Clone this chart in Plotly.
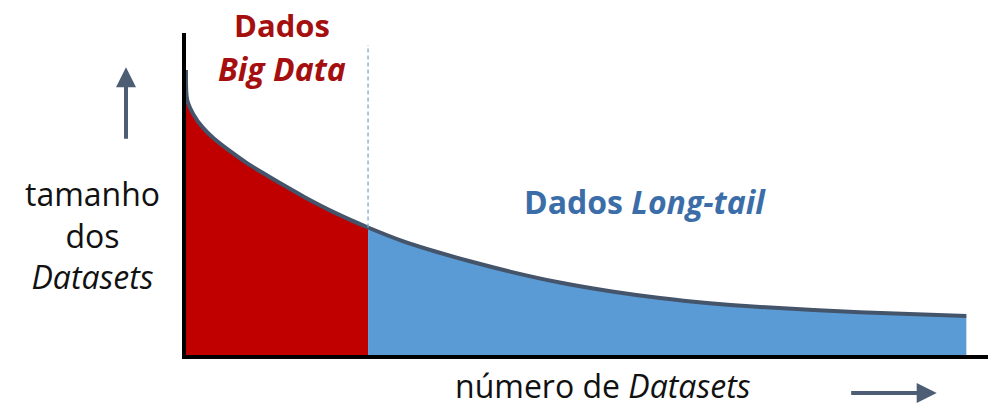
import plotly.graph_objects as go

# Data: dataset rank vs dataset size (arbitrary units)
rank = [0, 0.15, 0.9, 2.1, 3.4, 5.5, 7.6, 9.6, 11.7, 14.8, 18.8, 22.7, 27.1, 31.3, 35.4,
        40.4, 46.6, 52.9, 59.1, 65.3, 71.6, 84.0, 97.3]
size = [88.5, 79.2, 74.8, 70.6, 67.4, 63.3, 59.6, 56.5, 53.4, 49.0, 43.9, 39.6, 35.3, 32.0, 29.1,
        25.9, 22.5, 19.8, 17.7, 16.1, 14.9, 13.3, 12.1]
cutoff_index = 11  # boundary between "Big Data" head and "Long-tail"

RED = "#C00000"
BLUE = "#5B9BD5"
CURVE = "#44546A"
ARROW = "#4D5D73"
FONT = "Open Sans"

cut_x = rank[cutoff_index]
cut_y = size[cutoff_index]

fig = go.Figure()
fig.add_trace(go.Scatter(x=rank[:cutoff_index + 1], y=size[:cutoff_index + 1], mode="lines",
                         line=dict(width=0, shape="spline", smoothing=0.8, color=RED), fill="tozeroy",
                         fillcolor=RED, hoverinfo="skip", showlegend=False))
fig.add_trace(go.Scatter(x=rank[cutoff_index:], y=size[cutoff_index:], mode="lines",
                         line=dict(width=0, shape="spline", smoothing=0.8, color=BLUE), fill="tozeroy",
                         fillcolor=BLUE, hoverinfo="skip", showlegend=False))
fig.add_trace(go.Scatter(x=rank, y=size, mode="lines",
                         line=dict(width=4, shape="spline", smoothing=0.8, color=CURVE),
                         hoverinfo="skip", showlegend=False))
# dashed divider
fig.add_trace(go.Scatter(x=[cut_x, cut_x], y=[cut_y, 96.3], mode="lines",
                         line=dict(width=1.3, color="#7FA8CC", dash="4px,3px"),
                         hoverinfo="skip", showlegend=False))

annotations = [
    dict(x=0.1197, y=1.025, text="<b>Dados</b>", font=dict(family=FONT, size=31, color="#A50F0F")),
    dict(x=0.1197, y=0.891, text="<b><i>Big Data</i></b>", font=dict(family=FONT, size=32, color="#A50F0F")),
    dict(x=0.572, y=0.478, text="<b>Dados <i>Long-tail</i></b>", font=dict(family=FONT, size=32, color="#3B6EA8")),
    dict(x=-0.116, y=0.372, text="tamanho<br>dos<br><i>Datasets</i>", font=dict(family=FONT, size=32, color="#111111")),
]
for a in annotations:
    a.update(xref="paper", yref="paper", showarrow=False, xanchor="center", yanchor="middle")
annotations.append(dict(x=0.52, y=-0.1677, text="número de <i>Datasets</i>", xref="paper", yref="paper",
                        showarrow=False, xanchor="center", yanchor="bottom",
                        font=dict(family=FONT, size=32, color="#111111")))

# direction arrows
annotations.append(dict(x=-0.0748, y=0.894, ax=0, ay=73, xref="paper", yref="paper",
                        text="", showarrow=True, arrowhead=2, arrowsize=1, arrowwidth=4,
                        arrowcolor=ARROW, standoff=0))
annotations.append(dict(x=0.936, y=-0.118, ax=-87, ay=0, xref="paper", yref="paper",
                        text="", showarrow=True, arrowhead=2, arrowsize=1, arrowwidth=4,
                        arrowcolor=ARROW, standoff=0))

axis_common = dict(range=[0, 100], showgrid=False, zeroline=False, showticklabels=False,
                   ticks="", showline=True, linecolor="black", linewidth=4, fixedrange=True)
fig.update_layout(
    width=990, height=409,
    margin=dict(l=186, r=2, t=33, b=54),
    paper_bgcolor="white", plot_bgcolor="white",
    xaxis=axis_common, yaxis=axis_common,
    annotations=annotations,
    showlegend=False,
)
fig.write_html("out.html", config={"displayModeBar": False},
               post_script="document.body.style.margin='0';")
